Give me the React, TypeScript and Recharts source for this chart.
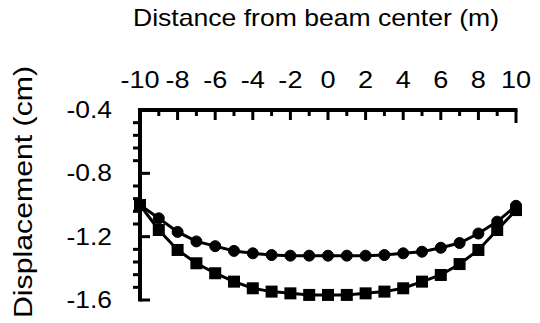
import { LineChart, Line, XAxis, YAxis } from "recharts"

const distance = [-10, -9, -8, -7, -6, -5, -4, -3, -2, -1, 0, 1, 2, 3, 4, 5, 6, 7, 8, 9, 10]
const circleSeries = [
  -1.0, -1.084, -1.17, -1.23, -1.26, -1.29, -1.305, -1.316, -1.32, -1.32, -1.32,
  -1.32, -1.32, -1.316, -1.305, -1.295, -1.27, -1.24, -1.18, -1.105, -1.005,
]
const squareSeries = [
  -1.0, -1.158, -1.284, -1.368, -1.431, -1.484, -1.526, -1.547, -1.558, -1.568, -1.568,
  -1.568, -1.558, -1.547, -1.526, -1.484, -1.442, -1.373, -1.284, -1.158, -1.032,
]
const xTicks = distance
const yTicks = [
  -0.4, -0.48, -0.56, -0.64, -0.72, -0.8, -0.88, -0.96, -1.04, -1.12, -1.2, -1.28, -1.36,
  -1.44, -1.52, -1.6,
]
const yLabels = [-0.4, -0.8, -1.2, -1.6]

const data = distance.map((d, i) => ({ d, circle: circleSeries[i], square: squareSeries[i] }))

const FONT = "'Liberation Sans', Arial, Helvetica, sans-serif"
const PLOT_TOP = 110
const PLOT_LEFT = 140

// the axis frame is drawn piecewise by the ticks, half a step on each side
const XTick = (props: any) => {
  const { x, payload, index, visibleTicksCount } = props
  const v = payload.value as number
  const major = v % 2 === 0
  const first = index === 0
  const last = index === visibleTicksCount - 1
  return (
    <g>
      <line
        x1={first ? x - 2 : x - 10}
        x2={last ? x + 1.5 : x + 10}
        y1={PLOT_TOP}
        y2={PLOT_TOP}
        stroke="#000"
        strokeWidth={4}
      />
      <line
        x1={x}
        x2={x}
        y1={PLOT_TOP}
        y2={PLOT_TOP + (major ? 10 : 6) + (last ? 3 : 0)}
        stroke="#000"
        strokeWidth={3}
      />
      {major && (
        <text
          transform={`translate(${x},88) scale(1.13,1)`}
          textAnchor="middle"
          fontSize={24}
          fontFamily={FONT}
          fill="#000"
        >
          {v}
        </text>
      )}
    </g>
  )
}

const YTick = (props: any) => {
  const { y, payload, index, visibleTicksCount } = props
  const v = payload.value as number
  const major = yLabels.some((l) => Math.abs(l - v) < 1e-6)
  const first = index === 0
  const last = index === visibleTicksCount - 1
  return (
    <g>
      <line
        x1={PLOT_LEFT}
        x2={PLOT_LEFT}
        y1={first ? y : y - 7}
        y2={last ? y + 1.5 : y + 7}
        stroke="#000"
        strokeWidth={4}
      />
      {major ? (
        <line x1={PLOT_LEFT} x2={PLOT_LEFT + 10} y1={y} y2={y} stroke="#000" strokeWidth={3} />
      ) : (
        <line x1={PLOT_LEFT - 7} x2={PLOT_LEFT} y1={y} y2={y} stroke="#000" strokeWidth={3} />
      )}
      {major && (
        <text
          transform={`translate(112,${y + 8}) scale(1.1,1)`}
          textAnchor="end"
          fontSize={24}
          fontFamily={FONT}
          fill="#000"
        >
          {v.toFixed(1)}
        </text>
      )}
    </g>
  )
}

const SquareDot = (props: any) => {
  const { cx, cy } = props
  if (cx == null || cy == null) return null
  return <rect x={cx - 6} y={cy - 6} width={12} height={12} fill="#000" />
}

export default function App() {
  return (
    <div style={{ position: "absolute", left: 0, top: 0, background: "#fff" }}>
      <LineChart
        width={540}
        height={323}
        data={data}
        margin={{ top: 0, right: 24, bottom: 23, left: 0 }}
      >
        <XAxis
          dataKey="d"
          type="number"
          orientation="top"
          domain={[-10, 10]}
          ticks={xTicks}
          interval={0}
          height={PLOT_TOP}
          tickLine={false}
          axisLine={false}
          tick={<XTick />}
          label={{
            content: () => (
              <text
                x={316}
                y={26}
                textAnchor="middle"
                fontSize={24}
                fontFamily={FONT}
                fill="#000"
                textLength={366}
                lengthAdjust="spacingAndGlyphs"
              >
                Distance from beam center (m)
              </text>
            ),
          }}
        />
        <YAxis
          type="number"
          domain={[-1.6, -0.4]}
          ticks={yTicks}
          interval={0}
          width={PLOT_LEFT}
          tickLine={false}
          axisLine={false}
          tick={<YTick />}
          label={{
            content: () => (
              <text
                transform="translate(32,192) rotate(-90)"
                textAnchor="middle"
                fontSize={25}
                fontFamily={FONT}
                fill="#000"
                textLength={252}
                lengthAdjust="spacingAndGlyphs"
              >
                Displacement (cm)
              </text>
            ),
          }}
        />
        <Line
          type="linear"
          dataKey="square"
          stroke="#000"
          strokeWidth={3}
          dot={<SquareDot />}
          isAnimationActive={false}
        />
        <Line
          type="linear"
          dataKey="circle"
          stroke="#000"
          strokeWidth={3}
          dot={{ r: 5.5, fill: "#000", stroke: "#000", strokeWidth: 1 }}
          isAnimationActive={false}
        />
      </LineChart>
    </div>
  )
}
